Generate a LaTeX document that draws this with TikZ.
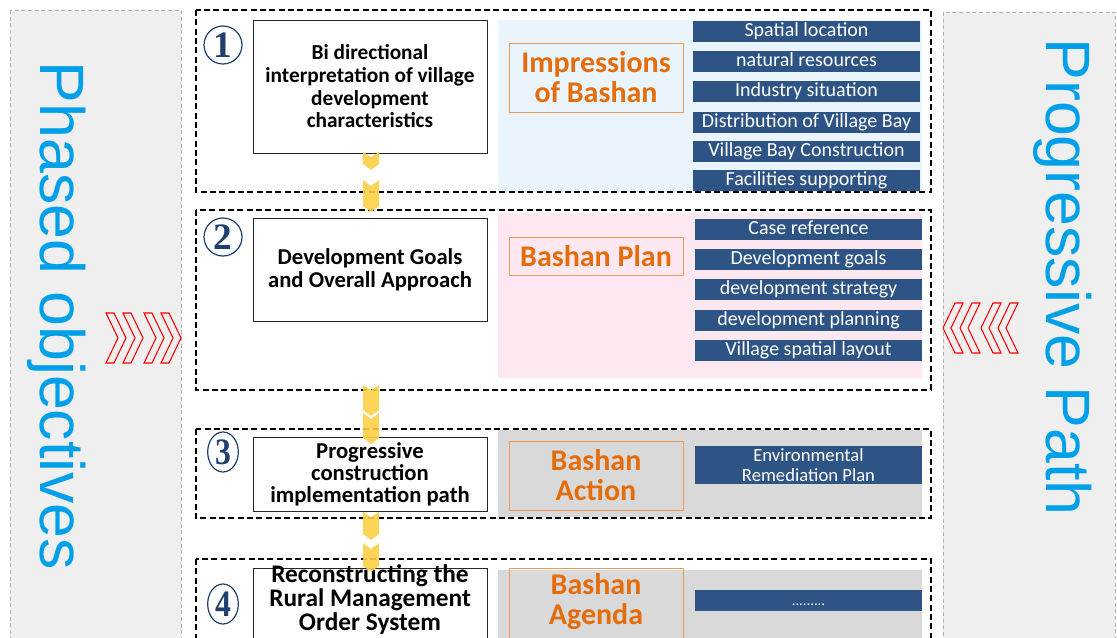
\documentclass[tikz,border=0pt]{standalone}
\usepackage{fontspec}
\setmainfont{Carlito}
\newfontfamily\arialfont{Liberation Sans}
\newfontfamily\numfont{Liberation Serif}
\usetikzlibrary{shapes.geometric}
\definecolor{panelgray}{HTML}{EFEFEF}
\definecolor{cyanblue}{HTML}{00A0E9}
\definecolor{barblue}{HTML}{2E5485}
\definecolor{orangetext}{HTML}{E46C0A}
\definecolor{orangeline}{HTML}{EE9A55}
\definecolor{lightblue}{HTML}{EAF4FC}
\definecolor{lightpink}{HTML}{FDE8F2}
\definecolor{midgray}{HTML}{D9D9D9}
\definecolor{arrowyellow}{HTML}{FCCF45}
\definecolor{numblue}{HTML}{1F3F6E}
\begin{document}
\begin{tikzpicture}[x=0.75pt,y=-0.75pt,
  sidepanel/.style={draw=gray!60, densely dashed, line width=0.4pt, fill=panelgray},
  stagebox/.style={draw=black, dash pattern=on 4.5pt off 2.5pt, line width=1.6pt},
  whitebox/.style={draw=black!85, line width=0.6pt, fill=white, align=center, inner sep=0pt, minimum width=175.5pt},
  orangebox/.style={draw=orangeline, line width=0.7pt, text=orangetext, align=center, inner sep=0pt,
    minimum width=130.5pt, font=\bfseries\fontsize{22.5}{22.5}\selectfont},
  bar/.style={fill=barblue, text=white, inner sep=0pt, minimum width=170.25pt, minimum height=15.75pt,
    text height=10pt, text depth=3pt, font=\fontsize{15}{15}\selectfont, align=center},
  numcirc/.style={circle, draw=numblue, line width=0.9pt, inner sep=0pt, minimum size=28.5pt,
    text=numblue, font=\numfont\bfseries\fontsize{28}{28}\selectfont},
  numell/.style={ellipse, draw=numblue, line width=0.9pt, inner sep=0pt, minimum width=23pt, minimum height=30pt,
    text=numblue, font=\numfont\bfseries\fontsize{28}{28}\selectfont},
  vtext/.style={rotate=-90, anchor=base, inner sep=0pt, text=cyanblue, font=\arialfont\fontsize{47}{50}\selectfont},
  chev/.style={draw=red, line width=0.8pt, line join=miter},
  ychev/.style={fill=arrowyellow, draw=none, opacity=0.9}
]
\useasboundingbox (0,0) rectangle (1117,638);
\clip (0,0) rectangle (1117,638);

% side panels
\path[sidepanel] (10,10) rectangle (181,660);
\path[sidepanel] (943,12) rectangle (1115,660);
\node[vtext] (leftlabel) at (40,316) {Phased objectives};
\node[vtext] (rightlabel) at (1046,277) {Progressive Path};

% red chevrons
\foreach \o in {0,17,38,55}{
  \draw[chev] ({106+\o},313) -- ({114+\o},313) -- ({126+\o},338) -- ({114+\o},363) -- ({106+\o},363) -- ({118+\o},338) -- cycle;
  \draw[chev] ({963+\o},303) -- ({955+\o},303) -- ({943+\o},328) -- ({955+\o},353) -- ({963+\o},353) -- ({951+\o},328) -- cycle;
}

% coloured panels
\fill[lightblue] (498,20) rectangle (922,192);
\fill[lightpink] (498,213) rectangle (922,378);
\fill[midgray] (498,430) rectangle (922,517);
\fill[midgray] (498,570) rectangle (922,660);

% stage dashed boxes
\draw[stagebox] (196,10) rectangle (931,192);
\draw[stagebox] (196,210) rectangle (931,390);
\draw[stagebox] (196,429) rectangle (931,518);
\draw[stagebox] (196,559) rectangle (931,670);

% numbers
\node[numcirc] (n1) at (223,45) {1};
\node[numcirc] (n2) at (223,237) {2};
\node[numell] (n3) at (223,452) {\scalebox{0.85}[1]{3}};
\node[numell] (n4) at (223,604) {\scalebox{0.85}[1]{4}};

% white boxes
\node[whitebox, minimum height=99.75pt, font=\bfseries\fontsize{16}{17}\selectfont] (w1) at (370,86.5)
  {Bi directional\\interpretation of village\\development\\characteristics};
\node[whitebox, minimum height=77.25pt, font=\bfseries\fontsize{17}{17.3}\selectfont] (w2) at (370,269.5)
  {Development Goals\\and Overall Approach};
\node[whitebox, minimum height=55.5pt, font=\bfseries\fontsize{17}{16.5}\selectfont] (w3) at (370,474)
  {Progressive\\construction\\implementation path};
\node[whitebox, minimum height=66pt] (w4) at (370,612) {};
\node[align=center, inner sep=0pt, font=\bfseries\fontsize{19}{18}\selectfont] (w4t) at (370,600)
  {Reconstructing the\\Rural Management\\Order System};

% orange boxes
\node[orangebox, minimum height=51.75pt] (o1) at (596,77.5) {Impressions\\of Bashan};
\node[orangebox, minimum height=28.5pt] (o2) at (596,256) {Bashan Plan};
\node[orangebox, minimum height=51.75pt] (o3) at (596,475.5) {Bashan\\Action};
\node[orangebox, minimum height=64.5pt] (o4) at (596,611) {};
\node[align=center, inner sep=0pt, text=orangetext, font=\bfseries\fontsize{22.5}{22.5}\selectfont] (o4t) at (596,602) {Bashan\\Agenda};

% bars, group 1
\node[bar] (a1) at (806.5,31.5) {Spatial location};
\node[bar] (a2) at (806.5,61.5) {natural resources};
\node[bar] (a3) at (806.5,91.5) {Industry situation};
\node[bar] (a4) at (806.5,122.5) {Distribution of Village Bay};
\node[bar] (a5) at (806.5,151.5) {Village Bay Construction};
\node[bar] (a6) at (806.5,180.5) {Facilities supporting};
% group 2
\node[bar] (b1) at (808.5,229.5) {Case reference};
\node[bar] (b2) at (808.5,259.5) {Development goals};
\node[bar] (b3) at (808.5,289.5) {development strategy};
\node[bar] (b4) at (808.5,320.5) {development planning};
\node[bar] (b5) at (808.5,350.5) {Village spatial layout};
% group 3 and 4
\node[bar, minimum height=28.5pt, text height=, text depth=, font=\fontsize{14}{14.5}\selectfont] (c1) at (808.5,465)
  {Environmental\\Remediation Plan};
\node[bar] (d1) at (808.5,600.5) {\fontsize{11}{11}\selectfont .........};

% yellow chevron arrows
\fill[ychev] (363,152) -- (371,157) -- (379,152) -- (379,164) -- (371,170) -- (363,164) -- cycle;
\fill[ychev] (363,180) -- (371,186) -- (379,180) -- (379,206) -- (371,212) -- (363,206) -- cycle;
\fill[ychev] (363,385) -- (371,390) -- (379,385) -- (379,410) -- (371,416) -- (363,410) -- cycle;
\fill[ychev] (363,413) -- (371,419) -- (379,413) -- (379,438) -- (371,444) -- (363,438) -- cycle;
\fill[ychev] (363,512) -- (371,517) -- (379,512) -- (379,534) -- (371,540) -- (363,534) -- cycle;
\fill[ychev] (363,543) -- (371,549) -- (379,543) -- (379,566) -- (371,572) -- (363,566) -- cycle;
\end{tikzpicture}
\end{document}
